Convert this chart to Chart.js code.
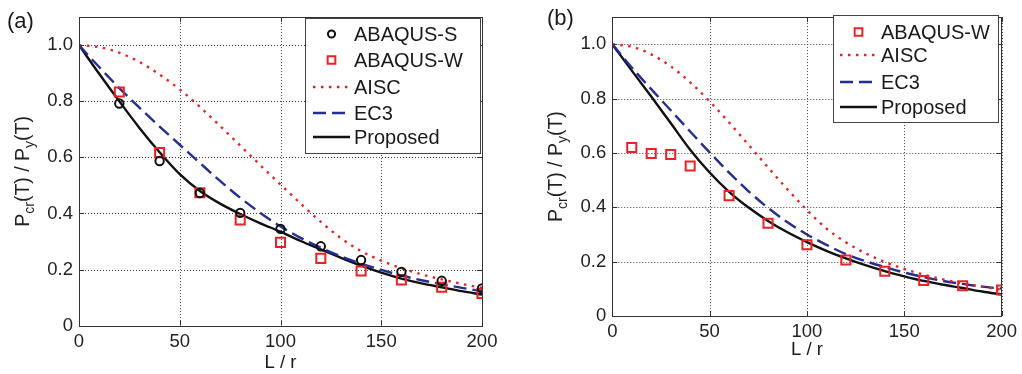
<!DOCTYPE html>
<html>
<head>
<meta charset="utf-8">
<script src="https://cdn.jsdelivr.net/npm/chart.js@4.4.1/dist/chart.umd.min.js"></script>
<style>
  html, body { margin: 0; padding: 0; background: #fff; }
  #wrap { position: relative; width: 1022px; height: 374px; overflow: hidden; }
  canvas { position: absolute; top: 0; }
</style>
</head>
<body>
<div id="wrap">
  <canvas id="chartA" width="511" height="374" style="left:0"></canvas>
  <canvas id="chartB" width="511" height="374" style="left:511px"></canvas>
</div>
<script>
var FONT = '"Liberation Sans", Arial, Helvetica, sans-serif';

// slenderness L/r where the design curves are sampled
var slenderness = [0, 10, 20, 30, 40, 50, 60, 70, 80, 90, 100, 110, 120, 130, 140, 150, 160, 170, 180, 190, 200];

// panel (a)
var proposedA = [1.000, 0.898, 0.800, 0.705, 0.618, 0.540, 0.480, 0.435, 0.398, 0.365, 0.335, 0.302, 0.272, 0.242, 0.214, 0.189, 0.168, 0.151, 0.137, 0.123, 0.111];
var ec3A      = [1.000, 0.922, 0.847, 0.777, 0.710, 0.645, 0.580, 0.516, 0.456, 0.402, 0.354, 0.313, 0.278, 0.247, 0.221, 0.199, 0.179, 0.162, 0.148, 0.135, 0.123];
var aiscA     = [1.000, 0.993, 0.973, 0.940, 0.895, 0.842, 0.780, 0.712, 0.642, 0.572, 0.503, 0.435, 0.370, 0.312, 0.266, 0.232, 0.205, 0.183, 0.165, 0.149, 0.135];
var abaqusSX  = [20, 40, 60, 80, 100, 120, 140, 160, 180, 200];
var abaqusSA  = [0.792, 0.587, 0.473, 0.402, 0.345, 0.283, 0.234, 0.192, 0.160, 0.133];
var abaqusWXA = [20, 40, 60, 80, 100, 120, 140, 160, 180, 200];
var abaqusWA  = [0.833, 0.617, 0.474, 0.377, 0.297, 0.240, 0.195, 0.163, 0.137, 0.115];

// panel (b)
var proposedB = [1.000, 0.903, 0.808, 0.710, 0.612, 0.528, 0.457, 0.399, 0.350, 0.308, 0.272, 0.240, 0.212, 0.187, 0.165, 0.146, 0.129, 0.115, 0.103, 0.090, 0.079];
var ec3B      = [1.000, 0.914, 0.835, 0.757, 0.679, 0.602, 0.528, 0.459, 0.398, 0.345, 0.300, 0.262, 0.228, 0.202, 0.180, 0.160, 0.143, 0.129, 0.118, 0.108, 0.101];
var aiscB     = [1.000, 0.991, 0.963, 0.919, 0.860, 0.790, 0.712, 0.630, 0.547, 0.466, 0.390, 0.322, 0.271, 0.231, 0.199, 0.173, 0.152, 0.135, 0.120, 0.108, 0.097];
var abaqusWXB = [10, 20, 30, 40, 60, 80, 100, 120, 140, 160, 180, 200];
var abaqusWB  = [0.620, 0.598, 0.594, 0.552, 0.443, 0.341, 0.262, 0.206, 0.165, 0.131, 0.111, 0.096];

var xTicks = [0, 50, 100, 150, 200];
var yTicks = [0, 0.2, 0.4, 0.6, 0.8, 1];

var RED = 'rgb(238,32,36)';
var BLUE = 'rgb(36,46,150)';
var BLACK = '#111';

var styles = {
    'ABAQUS-S': { color: BLACK, marker: 'circle', radius: 4.2 },
    'ABAQUS-W': { color: RED, marker: 'rect', radius: 6.4 },
    'AISC': { color: RED, dash: [2.5, 5.5] },
    'EC3': { color: BLUE, dash: [13, 6] },
    'Proposed': { color: BLACK, dash: [] }
};

function toPoints(xs, ys) {
    return xs.map(function (x, i) { return { x: x, y: ys[i] }; });
}

function lineSet(label, ys) {
    var s = styles[label];
    return {
        label: label, data: toPoints(slenderness, ys), showLine: true,
        borderColor: s.color, borderWidth: 2.4, borderDash: s.dash,
        pointRadius: 0, cubicInterpolationMode: 'monotone', fill: false, order: 5
    };
}

function markerSet(label, xs, ys) {
    var s = styles[label];
    return {
        label: label, data: toPoints(xs, ys), showLine: false,
        pointStyle: s.marker, pointRadius: s.radius, pointHoverRadius: s.radius,
        borderColor: s.color, pointBorderColor: s.color, pointBorderWidth: 2,
        backgroundColor: 'rgba(0,0,0,0)', pointBackgroundColor: 'rgba(0,0,0,0)', order: 1
    };
}

// dotted grid at the tick values
function drawGrid(chart) {
    var a = chart.chartArea, ctx = chart.ctx;
    var xs = chart.scales.x, ys = chart.scales.y;
    ctx.save();
    ctx.strokeStyle = '#444';
    ctx.lineWidth = 1;
    ctx.setLineDash([1, 2]);
    ctx.beginPath();
    xTicks.forEach(function (v) {
        var px = Math.round(xs.getPixelForValue(v)) + 0.5;
        ctx.moveTo(px, a.top); ctx.lineTo(px, a.bottom);
    });
    yTicks.forEach(function (v) {
        var py = Math.round(ys.getPixelForValue(v)) + 0.5;
        ctx.moveTo(a.left, py); ctx.lineTo(a.right, py);
    });
    ctx.stroke();
    ctx.restore();
}

function drawFrame(chart) {
    var a = chart.chartArea, ctx = chart.ctx;
    var xs = chart.scales.x, ys = chart.scales.y;
    ctx.save();
    ctx.strokeStyle = '#333';
    ctx.lineWidth = 1;
    ctx.setLineDash([]);
    ctx.strokeRect(Math.round(a.left) + 0.5, Math.round(a.top) + 0.5,
        Math.round(a.right - a.left), Math.round(a.bottom - a.top));
    // inward ticks on all four sides
    ctx.beginPath();
    xTicks.forEach(function (v) {
        var px = Math.round(xs.getPixelForValue(v)) + 0.5;
        ctx.moveTo(px, a.bottom); ctx.lineTo(px, a.bottom - 5);
        ctx.moveTo(px, a.top); ctx.lineTo(px, a.top + 5);
    });
    yTicks.forEach(function (v) {
        var py = Math.round(ys.getPixelForValue(v)) + 0.5;
        ctx.moveTo(a.left, py); ctx.lineTo(a.left + 5, py);
        ctx.moveTo(a.right, py); ctx.lineTo(a.right - 5, py);
    });
    ctx.stroke();
    ctx.restore();
}

// P_cr(T) / P_y(T), rotated, with subscripts
function drawYTitle(ctx, cx, cy) {
    var parts = [['P', 0], ['cr', 1], ['(T) / P', 0], ['y', 1], ['(T)', 0]];
    var big = '19.5px ' + FONT, small = '14px ' + FONT;
    ctx.save();
    var total = 0;
    parts.forEach(function (p) { ctx.font = p[1] ? small : big; total += ctx.measureText(p[0]).width; });
    ctx.translate(cx, cy);
    ctx.rotate(-Math.PI / 2);
    ctx.fillStyle = '#222';
    ctx.textBaseline = 'alphabetic';
    ctx.textAlign = 'left';
    var x = -total / 2;
    parts.forEach(function (p) {
        ctx.font = p[1] ? small : big;
        ctx.fillText(p[0], x, p[1] ? 10 : 5);
        x += ctx.measureText(p[0]).width;
    });
    ctx.restore();
}

function drawLegend(ctx, lg) {
    ctx.save();
    ctx.fillStyle = '#fff';
    ctx.fillRect(lg.x0, lg.y0, lg.x1 - lg.x0, lg.y1 - lg.y0);
    ctx.strokeStyle = '#444';
    ctx.lineWidth = 1;
    ctx.setLineDash([]);
    ctx.strokeRect(lg.x0 + 0.5, lg.y0 + 0.5, lg.x1 - lg.x0, lg.y1 - lg.y0);
    ctx.font = '20px ' + FONT;
    ctx.textBaseline = 'middle';
    ctx.textAlign = 'left';
    lg.labels.forEach(function (label, i) {
        var s = styles[label], y = lg.rows[i];
        var mx = (lg.lineX0 + lg.lineX1) / 2;
        if (s.marker) {
            ctx.strokeStyle = s.color;
            ctx.lineWidth = 2;
            ctx.beginPath();
            if (s.marker === 'circle') {
                ctx.arc(mx, y, s.radius * 0.85, 0, Math.PI * 2);
            } else {
                var h = s.radius * 0.85 * Math.SQRT1_2;
                ctx.rect(mx - h, y - h, 2 * h, 2 * h);
            }
            ctx.stroke();
        } else {
            ctx.strokeStyle = s.color;
            ctx.lineWidth = 2.4;
            ctx.setLineDash(s.dash);
            ctx.beginPath();
            ctx.moveTo(lg.lineX0, y);
            ctx.lineTo(lg.lineX1, y);
            ctx.stroke();
            ctx.setLineDash([]);
        }
        ctx.fillStyle = '#1a1a1a';
        ctx.fillText(label, lg.textX, y + 1);
    });
    ctx.restore();
}

function makeDecor(cfg) {
    return {
        id: 'panelDecor',
        beforeDatasetsDraw: function (chart) {
            drawGrid(chart);
        },
        afterDatasetsDraw: function (chart) {
            var ctx = chart.ctx, a = chart.chartArea;
            drawFrame(chart);
            drawLegend(ctx, cfg.legend);
            ctx.save();
            ctx.fillStyle = '#1a1a1a';
            ctx.font = '22px ' + FONT;
            ctx.textBaseline = 'middle';
            ctx.textAlign = 'left';
            ctx.fillText(cfg.letter, cfg.letterX, cfg.letterY);
            ctx.font = '18.5px ' + FONT;
            ctx.textAlign = 'center';
            ctx.fillText('L / r', (a.left + a.right) / 2, cfg.xTitleY);
            ctx.restore();
            drawYTitle(ctx, cfg.yTitleX, (a.top + a.bottom) / 2);
        }
    };
}

function makeChart(id, datasets, area, cfg) {
    var canvas = document.getElementById(id);
    return new Chart(canvas, {
        type: 'scatter',
        data: { datasets: datasets },
        options: {
            responsive: false,
            animation: false,
            devicePixelRatio: 1,
            layout: { padding: { left: 0, top: area.top, right: canvas.width - area.right, bottom: 0 } },
            plugins: { legend: { display: false }, tooltip: { enabled: false } },
            scales: {
                x: {
                    type: 'linear', min: 0, max: 200,
                    afterBuildTicks: function (s) { s.ticks = xTicks.map(function (v) { return { value: v }; }); },
                    afterFit: function (s) { s.height = canvas.height - area.bottom; },
                    grid: { display: false, drawTicks: false },
                    border: { display: false },
                    ticks: { padding: 5, color: '#222', font: { family: FONT, size: 18.5 }, maxRotation: 0 }
                },
                y: {
                    type: 'linear', min: 0, max: 1.1,
                    afterBuildTicks: function (s) { s.ticks = yTicks.map(function (v) { return { value: v }; }); },
                    afterFit: function (s) { s.width = area.left; },
                    grid: { display: false, drawTicks: false },
                    border: { display: false },
                    ticks: { padding: 6, color: '#222', font: { family: FONT, size: 18.5 } }
                }
            }
        },
        plugins: [makeDecor(cfg)]
    });
}

makeChart('chartA', [
    markerSet('ABAQUS-S', abaqusSX, abaqusSA),
    markerSet('ABAQUS-W', abaqusWXA, abaqusWA),
    lineSet('AISC', aiscA),
    lineSet('EC3', ec3A),
    lineSet('Proposed', proposedA)
], { left: 79, right: 482, top: 11.5, bottom: 325.7 }, {
    letter: '(a)', letterX: 7, letterY: 22, yTitleX: 24, xTitleY: 363,
    legend: {
        x0: 305, y0: 18, x1: 480, y1: 153,
        rows: [34, 60, 87, 113, 137],
        lineX0: 313, lineX1: 350, textX: 354,
        labels: ['ABAQUS-S', 'ABAQUS-W', 'AISC', 'EC3', 'Proposed']
    }
});

makeChart('chartB', [
    markerSet('ABAQUS-W', abaqusWXB, abaqusWB),
    lineSet('AISC', aiscB),
    lineSet('EC3', ec3B),
    lineSet('Proposed', proposedB)
], { left: 101.3, right: 495.7, top: 8.8, bottom: 316 }, {
    letter: '(b)', letterX: 36, letterY: 19, yTitleX: 46, xTitleY: 350,
    legend: {
        x0: 322, y0: 15, x1: 487, y1: 122,
        rows: [32, 55, 82, 107],
        lineX0: 329, lineX1: 366, textX: 370,
        labels: ['ABAQUS-W', 'AISC', 'EC3', 'Proposed']
    }
});
</script>
</body>
</html>
